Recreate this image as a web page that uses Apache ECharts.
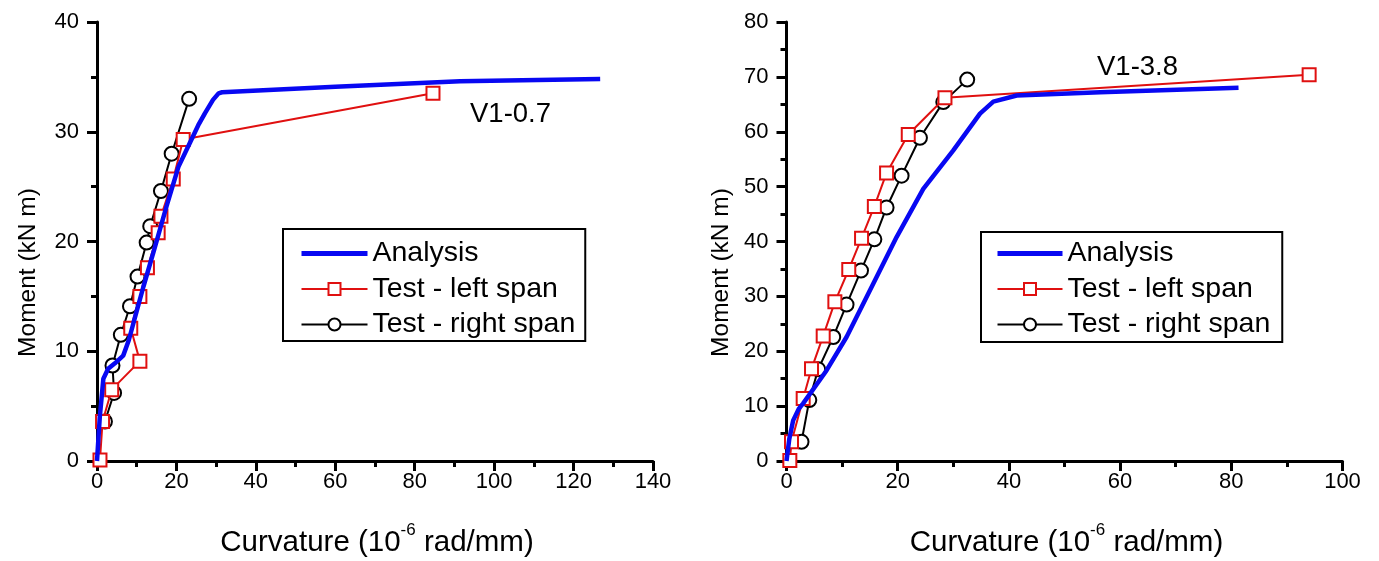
<!DOCTYPE html>
<html>
<head>
<meta charset="utf-8">
<script src="https://cdn.jsdelivr.net/npm/echarts@6/dist/echarts.min.js"></script>
<style>
html,body{margin:0;padding:0;background:#fff;width:1379px;height:561px;overflow:hidden;}
#c{width:1379px;height:561px;overflow:hidden;}
</style>
</head>
<body>
<div id="c"></div>
<script>
// ---------- data (curvature 10^-6 rad/mm, moment kN m) ----------
const seriesNames = ['Analysis', 'Test - left span', 'Test - right span'];
const panelLabels = ['V1-0.7', 'V1-3.8'];

// Left panel: V1-0.7
const leftAnalysis = [[0,0],[0.7,4.0],[1.6,7.5],[2.8,8.4],[4.5,8.9],[6.6,9.6],[8.0,11.0],[9.2,12.6],[11.7,15.9],[14.6,19.5],[17.5,23.2],[20.5,26.8],[23.4,29.0],[25.5,30.6],[27.2,31.7],[29.2,32.9],[30.6,33.5],[31.5,33.6],[60,34.1],[91.4,34.6],[126.7,34.8]];
const leftTestLeft = [[0.75,0.1],[1.4,3.6],[3.7,6.5],[10.8,9.1],[8.5,12.1],[10.8,15.0],[12.7,17.6],[15.4,20.8],[16.1,22.3],[19.2,25.7],[21.7,29.3],[84.6,33.5]];
const leftTestRight = [[2.0,3.6],[4.3,6.2],[3.9,8.7],[6.0,11.5],[8.3,14.1],[10.2,16.8],[12.5,19.9],[13.4,21.4],[16.1,24.6],[18.8,28.0],[23.2,33.0]];

// Right panel: V1-3.8
const rightAnalysis = [[0,0],[0.5,4.0],[1.2,7.4],[2.2,9.5],[3.0,10.5],[7.2,16.5],[10.8,22.6],[15.6,32.3],[19.8,40.8],[24.6,49.6],[30.0,56.6],[34.8,63.3],[37.2,65.5],[41.4,66.6],[56.4,67.2],[81.3,68.0]];
const rightTestLeft = [[0.6,0.1],[0.9,3.5],[3.0,11.4],[4.5,16.8],[6.6,22.8],[8.7,29.0],[11.2,34.9],[13.5,40.6],[15.8,46.4],[18.0,52.5],[21.9,59.5],[28.5,66.2],[94.0,70.4]];
const rightTestRight = [[2.7,3.5],[4.1,11.1],[5.7,16.7],[8.4,22.6],[10.8,28.5],[13.4,34.7],[15.8,40.4],[18.0,46.2],[20.7,52.0],[24.0,58.9],[28.2,65.4],[32.5,69.5]];

// axis ranges / tick steps
const xMaxes = [140, 100];
const xSteps = [20, 20];
const yMaxes = [40, 80];
const ySteps = [10, 10];

// ---------- chart ----------
const FONT = '"Liberation Sans", Arial, Helvetica, sans-serif';
const BLUE = '#0808f2', RED = '#e01010', BLACK = '#000';

function xAxis(i) {
  return {
    type: 'value', gridIndex: i, min: 0, max: xMaxes[i], interval: xSteps[i],
    axisLine: {show: true, onZero: false, lineStyle: {color: '#000', width: 3}},
    axisTick: {show: true, inside: false, length: 10, lineStyle: {color: '#000', width: 3}},
    minorTick: {show: true, splitNumber: 2, length: 6, lineStyle: {color: '#000', width: 3}},
    splitLine: {show: false}, minorSplitLine: {show: false},
    axisLabel: {fontSize: 22, color: '#000', margin: 10, fontFamily: FONT},
    name: '{a|Curvature (10}{s|-6}{a| rad/mm)}',
    nameLocation: 'middle', nameGap: 61,
    nameTextStyle: {
      padding: [0, 0, 0, 4],
      rich: {
        a: {fontSize: 29.5, color: '#000', fontFamily: FONT, lineHeight: 42},
        s: {fontSize: 17, color: '#000', fontFamily: FONT, lineHeight: 17, verticalAlign: 'top'}
      }
    }
  };
}
function yAxis(i, gap) {
  return {
    type: 'value', gridIndex: i, min: 0, max: yMaxes[i], interval: ySteps[i],
    axisLine: {show: true, onZero: false, lineStyle: {color: '#000', width: 3}},
    axisTick: {show: true, inside: false, length: 10, lineStyle: {color: '#000', width: 3}},
    minorTick: {show: true, splitNumber: 2, length: 6, lineStyle: {color: '#000', width: 3}},
    splitLine: {show: false}, minorSplitLine: {show: false},
    axisLabel: {fontSize: 22, color: '#000', margin: 18, fontFamily: FONT},
    name: 'Moment (kN m)', nameLocation: 'middle', nameGap: gap, nameRotate: 90,
    nameTextStyle: {fontSize: 24.5, color: '#000', fontFamily: FONT, padding: [0, 62, 0, 0]}
  };
}
function analysis(i, data) {
  return {name: seriesNames[0], type: 'line', xAxisIndex: i, yAxisIndex: i, data: data,
    showSymbol: false, symbol: 'none', lineStyle: {color: BLUE, width: 4.5}, itemStyle: {color: BLUE},
    z: 4, silent: true, animation: false};
}
function testLeft(i, data) {
  return {name: seriesNames[1], type: 'line', xAxisIndex: i, yAxisIndex: i, data: data,
    symbol: 'emptyRect', symbolSize: 13, showAllSymbol: true,
    lineStyle: {color: RED, width: 2}, itemStyle: {color: RED, borderColor: RED, borderWidth: 2},
    z: 3, silent: true, animation: false};
}
function testRight(i, data) {
  return {name: seriesNames[2], type: 'line', xAxisIndex: i, yAxisIndex: i, data: data,
    symbol: 'emptyCircle', symbolSize: 14, showAllSymbol: true,
    lineStyle: {color: BLACK, width: 2}, itemStyle: {color: BLACK, borderColor: BLACK, borderWidth: 2},
    z: 2, silent: true, animation: false};
}
function legend(left, top, padding, itemWidth) {
  return {
    left: left, top: top, orient: 'vertical',
    data: [
      {name: seriesNames[0], itemStyle: {opacity: 0}, lineStyle: {width: 5, color: BLUE}},
      {name: seriesNames[1], lineStyle: {width: 2, color: RED}},
      {name: seriesNames[2], lineStyle: {width: 2, color: BLACK}}
    ],
    itemWidth: itemWidth, itemHeight: 15, itemGap: 6.5, padding: padding,
    borderColor: '#000', borderWidth: 2, backgroundColor: '#fff',
    selectedMode: false,
    textStyle: {fontSize: 28.5, color: '#000', fontFamily: FONT}
  };
}

const chart = echarts.init(document.getElementById('c'), null, {renderer: 'canvas', width: 1379, height: 561});
chart.setOption({
  backgroundColor: '#fff',
  animation: false,
  grid: [
    {left: 97, top: 22, width: 556, height: 439, containLabel: false, outerBoundsMode: 'none'},
    {left: 786.5, top: 22, width: 556, height: 439, containLabel: false, outerBoundsMode: 'none'}
  ],
  xAxis: [xAxis(0), xAxis(1)],
  yAxis: [yAxis(0, 56), yAxis(1, 53)],
  title: [
    {text: panelLabels[0], left: 470, top: 100, padding: 0,
     textStyle: {fontSize: 27.5, fontWeight: 'normal', color: '#000', fontFamily: FONT}},
    {text: panelLabels[1], left: 1097, top: 53, padding: 0,
     textStyle: {fontSize: 27.5, fontWeight: 'normal', color: '#000', fontFamily: FONT}}
  ],
  legend: [
    legend(283, 229, [10, 10, 2, 16], 66),
    legend(981, 232, [7, 12, 3, 14], 65)
  ],
  series: [
    testRight(0, leftTestRight), testLeft(0, leftTestLeft), analysis(0, leftAnalysis),
    testRight(1, rightTestRight), testLeft(1, rightTestLeft), analysis(1, rightAnalysis)
  ]
});
</script>
</body>
</html>
